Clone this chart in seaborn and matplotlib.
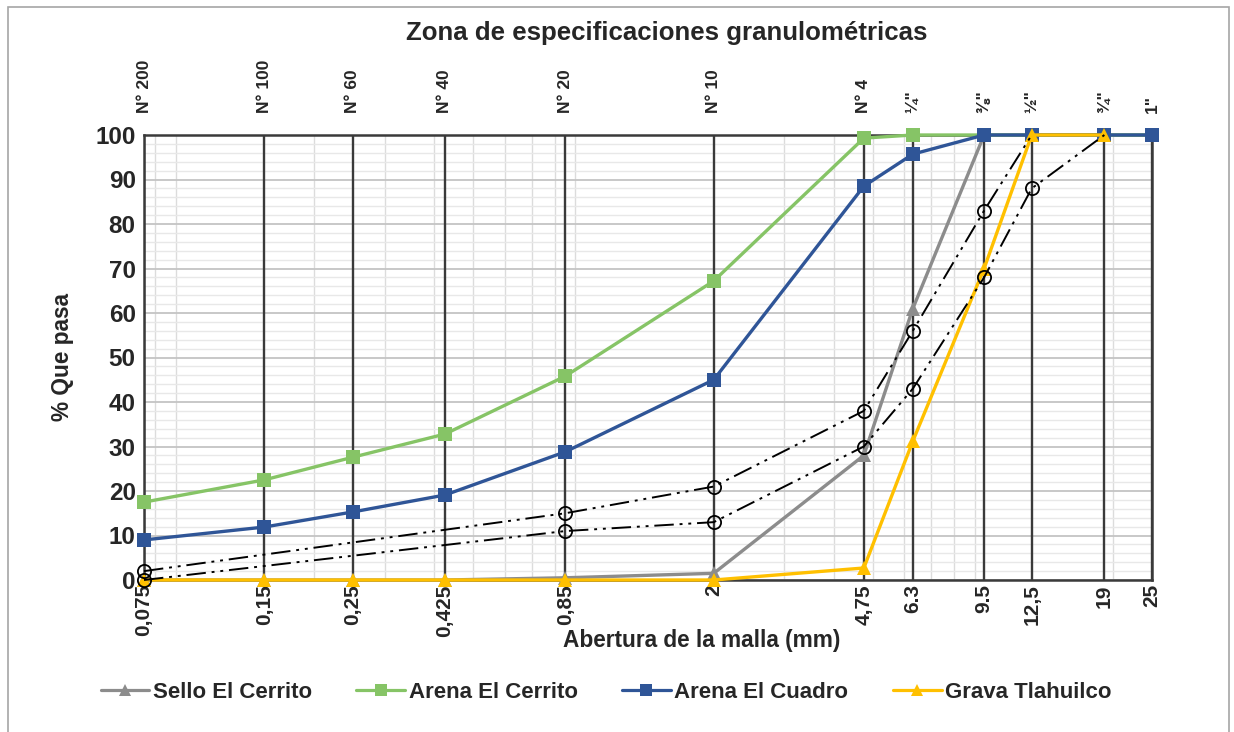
import numpy as np
import pandas as pd
import matplotlib
matplotlib.use("Agg")
import matplotlib.pyplot as plt
import seaborn as sns
from matplotlib.ticker import LogLocator, MultipleLocator, NullFormatter, NullLocator
from matplotlib.lines import Line2D
from matplotlib.patches import Rectangle

# ---------------- data ----------------
sieve_mm = [0.075, 0.15, 0.25, 0.425, 0.85, 2, 4.75, 6.3, 9.5, 12.5, 19, 25]
bottom_labels = ["0,075", "0,15", "0,25", "0,425", "0,85", "2", "4,75", "6.3", "9.5", "12,5", "19", "25"]
top_labels = ["N° 200", "N° 100", "N° 60", "N° 40", "N° 20", "N° 10", "N° 4", "¼\"", "⅜\"", "½\"", "¾\"", "1\""]

sello_cerrito = [0, 0, 0, 0, 0.5, 1.5, 28, 61, 100, 100, 100, 100]
arena_cerrito = [17.5, 22.5, 27.6, 32.8, 45.8, 67.2, 99.3, 100, 100, 100, 100, 100]
arena_cuadro = [9, 11.9, 15.3, 19.1, 28.8, 45, 88.5, 95.7, 100, 100, 100, 100]
grava_tlahuilco = [0, 0, 0, 0, 0, 0, 2.7, 31.2, 70, 100, 100, np.nan]

upper_sizes = [0.075, 0.85, 2, 4.75, 6.3, 9.5, 12.5]
upper_limit = [2, 15, 21, 38, 56, 83, 100]
lower_sizes = [0.075, 0.85, 2, 4.75, 6.3, 9.5, 12.5, 19]
lower_limit = [0, 11, 13, 30, 43, 68, 88, 100]

series_names = ["Sello El Cerrito", "Arena El Cerrito", "Arena El Cuadro", "Grava Tlahuilco"]
series_values = [sello_cerrito, arena_cerrito, arena_cuadro, grava_tlahuilco]
series_colors = ["#8c8c8c", "#86c466", "#2f5597", "#ffc000"]
series_markers = ["^", "s", "s", "^"]

title = "Zona de especificaciones granulométricas"
xlabel = "Abertura de la malla (mm)"
ylabel = "% Que pasa"

# ---------------- style ----------------
sns.set_style("white")
FONT = ["Liberation Sans", "DejaVu Sans"]
plt.rcParams["font.family"] = FONT
plt.rcParams["font.weight"] = "bold"

fig = plt.figure(figsize=(12.34, 7.32), dpi=100)
ax = fig.add_axes([144 / 1234, 1 - 580 / 732, (1152 - 144) / 1234, (580 - 135) / 732])

for name, vals, col, mk in zip(series_names, series_values, series_colors, series_markers):
    ms = 10 if mk == "s" else 10.5
    sns.lineplot(x=sieve_mm, y=vals, ax=ax, color=col, marker=mk, markersize=ms,
                 markeredgewidth=0, linewidth=2.4, label=name, zorder=3, clip_on=False)

lim_style = (0, (10, 3, 1.5, 3, 1.5, 3))
for xs, ys in [(upper_sizes, upper_limit), (lower_sizes, lower_limit)]:
    sns.lineplot(x=xs, y=ys, ax=ax, color="black", linewidth=1.4,
                 linestyle=lim_style, marker="o", markersize=9.5, fillstyle="none",
                 markeredgecolor="black", markerfacecolor="none",
                 markeredgewidth=1.3, markevery=list(range(len(xs) - 1)), zorder=4, clip_on=False)

if ax.get_legend() is not None:
    ax.get_legend().remove()

ax.set_xscale("log")
ax.set_xlim(0.075, 25)
ax.set_ylim(0, 100)

ax.set_xticks(sieve_mm)
ax.set_xticklabels(bottom_labels, rotation=90, fontsize=15, fontweight="bold")
ax.xaxis.set_minor_locator(LogLocator(base=10, subs=np.arange(2, 10)))
ax.xaxis.set_minor_formatter(NullFormatter())
ax.yaxis.set_major_locator(MultipleLocator(10))
ax.yaxis.set_minor_locator(MultipleLocator(2))
ax.tick_params(axis="x", which="both", length=0, pad=3)
ax.tick_params(axis="y", which="both", length=0, pad=6)
for lab in ax.get_yticklabels():
    lab.set_fontsize(17.5)
    lab.set_fontweight("bold")

ax.grid(which="minor", axis="y", color="#e8e8e8", linewidth=1.0)
ax.grid(which="major", axis="y", color="#c4c4c4", linewidth=1.3)
ax.grid(which="minor", axis="x", color="#dcdcdc", linewidth=1.0)
ax.grid(which="major", axis="x", visible=False)
ax.set_axisbelow(True)
for xv in sieve_mm:
    ax.axvline(xv, color="#3a3a3a", linewidth=1.7, zorder=1)
for s in ax.spines.values():
    s.set_color("#3a3a3a")
    s.set_linewidth(1.8)
    s.set_visible(True)

secax = ax.secondary_xaxis("top")
secax.set_xticks(sieve_mm)
secax.set_xticklabels(top_labels, rotation=90, fontsize=12.5, fontweight="bold")
secax.xaxis.set_minor_locator(NullLocator())
secax.tick_params(length=0, pad=16)
secax.spines["top"].set_visible(False)

ax.set_xlabel("")
ax.set_ylabel("")
fig.text(702 / 1234, 1 - 640 / 732, xlabel, ha="center", va="center", fontsize=16.3, fontweight="bold")
fig.text(62 / 1234, 1 - 357 / 732, ylabel, ha="center", va="center", rotation=90, fontsize=16.3, fontweight="bold")
fig.text(667 / 1234, 1 - 33 / 732, title, ha="center", va="center", fontsize=18.6, fontweight="bold")

handles = [Line2D([], [], color=c, marker=m, markersize=8, markeredgewidth=0, linewidth=2.3)
           for c, m in zip(series_colors, series_markers)]
fig.legend(handles, series_names, loc="center", bbox_to_anchor=(606 / 1234, 1 - 692 / 732), ncol=4,
           frameon=False, prop={"size": 16, "weight": "bold"},
           handlelength=2.2, handletextpad=0.15, columnspacing=2.0)

fig.patches.append(Rectangle((8 / 1234, -0.01), (1229 - 8) / 1234, 1 - 7 / 732 + 0.01,
                             transform=fig.transFigure, fill=False, edgecolor="#a6a6a6", linewidth=1.2))

fig.savefig("out.png", dpi=100)
